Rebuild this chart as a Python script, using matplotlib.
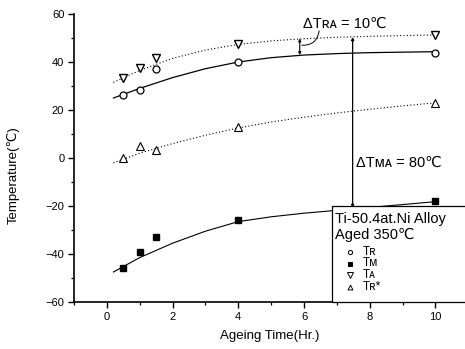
import matplotlib
matplotlib.use("Agg")
import matplotlib.pyplot as plt
from matplotlib.patches import Rectangle
from matplotlib.lines import Line2D
from matplotlib.ticker import MultipleLocator

plt.rcParams['font.family'] = ['Liberation Sans', 'DejaVu Sans']

# measured data
age_hr = [0.5, 1.0, 1.5, 4.0, 10.0]
T_R = [26.1, 28.2, 37.1, 40.0, 43.8]
T_M = [-45.8, -39.0, -32.8, -26.0, -18.0]
T_A = [33.5, 37.6, 41.6, 47.6, 51.4]
T_Rstar = [0.0, 4.9, 3.3, 13.0, 23.0]

# fitted curves
fit_x = [0.2, 1, 2, 3, 4, 5, 6, 7, 8, 9, 10]
fit_T_R = [25.0, 29.0, 33.5, 37.2, 40.0, 41.8, 42.9, 43.5, 43.9, 44.1, 44.3]
fit_T_A = [31.5, 36.5, 41.5, 45.0, 47.3, 48.8, 49.7, 50.3, 50.7, 51.0, 51.3]
fit_T_Rstar = [-2.0, 2.0, 6.0, 9.5, 12.5, 15.0, 17.0, 18.8, 20.3, 21.7, 23.0]
fit_T_M = [-47.5, -41.5, -35.5, -30.5, -26.5, -24.5, -23.0, -21.8, -20.6, -19.4, -18.2]

# annotations
dT_RA_x, dT_RA_lo, dT_RA_hi = 5.87, 42.9, 49.8
dT_MA_x, dT_MA_lo, dT_MA_hi = 7.48, -20.8, 50.4

fig = plt.figure(figsize=(4.65, 3.49), dpi=100)
ax = fig.add_axes([74/465, 47/349, 391/465, 288/349])

ax.plot(fit_x, fit_T_R, color='black', lw=0.9)
ax.plot(fit_x, fit_T_A, color='black', lw=0.8, linestyle=(0, (1, 2)))
ax.plot(fit_x, fit_T_Rstar, color='black', lw=0.8, linestyle=(0, (1, 2)))
ax.plot(fit_x, fit_T_M, color='black', lw=0.8)

ax.plot(age_hr, T_R, 'o', ms=5, mfc='white', mec='black', mew=0.9, ls='none')
ax.plot(age_hr, T_M, 's', ms=5, mfc='black', mec='black', ls='none')
ax.plot(age_hr, T_A, 'v', ms=6, mfc='white', mec='black', mew=1.0, ls='none')
ax.plot(age_hr, T_Rstar, '^', ms=5.5, mfc='white', mec='black', mew=0.8, ls='none')

ax.set_xlim(-1, 10.9)
ax.set_ylim(-60, 60)
ax.xaxis.set_major_locator(MultipleLocator(2))
ax.xaxis.set_minor_locator(MultipleLocator(1))
ax.yaxis.set_major_locator(MultipleLocator(20))
ax.yaxis.set_minor_locator(MultipleLocator(10))
for s in ['top', 'right']:
    ax.spines[s].set_visible(False)
ax.spines['left'].set_linewidth(1.2)
ax.spines['bottom'].set_linewidth(1.2)
ax.tick_params(which='major', direction='out', length=4, width=1, labelsize=8, pad=3)
ax.tick_params(which='minor', direction='out', length=2.5, width=0.9)

ax.set_xlabel('Ageing Time(Hr.)', fontsize=9.5, labelpad=6)
ax.set_ylabel('Temperature(\u2103)', fontsize=9.5)
ax.yaxis.set_label_coords(-0.14, 0.44)

# delta arrows
ax.annotate('', xy=(dT_RA_x, dT_RA_hi), xytext=(dT_RA_x, dT_RA_lo),
            arrowprops=dict(arrowstyle='<|-|>', mutation_scale=4, lw=0.8, color='black',
                            shrinkA=0, shrinkB=0))
ax.annotate('', xy=(dT_MA_x, dT_MA_hi), xytext=(dT_MA_x, dT_MA_lo),
            arrowprops=dict(arrowstyle='<|-|>', mutation_scale=4, lw=0.9, color='black',
                            shrinkA=0, shrinkB=0))
ax.annotate('', xy=(5.93, 47.0), xytext=(6.46, 53.0),
            arrowprops=dict(arrowstyle='-', lw=0.7, color='black',
                            connectionstyle='arc3,rad=-0.45', shrinkA=0, shrinkB=0))
ax.text(5.97, 54.2, '\u0394T\u0280\u1d00 = 10\u2103', fontsize=10.5, va='baseline', ha='left')
ax.text(7.58, -3.75, '\u0394T\u1d0d\u1d00 = 80\u2103', fontsize=10.5, va='baseline', ha='left')

# legend box
def ax_x(px):
    return (px - 74) / 391

def ax_y(py):
    return (302 - py) / 288

ax.add_patch(Rectangle((ax_x(332), 0), 0.345, ax_y(206), transform=ax.transAxes,
                       fc='white', ec='black', lw=0.9, clip_on=False, zorder=5))
ax.text(ax_x(335), ax_y(222.7), 'Ti-50.4at.Ni Alloy', transform=ax.transAxes,
        fontsize=10.5, va='baseline', ha='left', zorder=6)
ax.text(ax_x(335), ax_y(239), 'Aged 350\u2103', transform=ax.transAxes,
        fontsize=10.5, va='baseline', ha='left', zorder=6)
rows = [('o', 'white', 3, 'T\u0280', 252),
        ('s', 'black', 3.5, 'T\u1d0d', 263.5),
        ('v', 'white', 4, 'T\u1d00', 275),
        ('^', 'white', 3.5, 'T\u0280*', 287)]
for m, fc, ms, lab, py in rows:
    ax.add_line(Line2D([ax_x(350)], [ax_y(py)], marker=m, ms=ms, mfc=fc, mec='black',
                       mew=0.7, ls='none', transform=ax.transAxes, clip_on=False, zorder=6))
    ax.text(ax_x(363), ax_y(py), lab, transform=ax.transAxes, fontsize=8.5,
            va='center', ha='left', zorder=6)

fig.savefig('out.png', dpi=100)
